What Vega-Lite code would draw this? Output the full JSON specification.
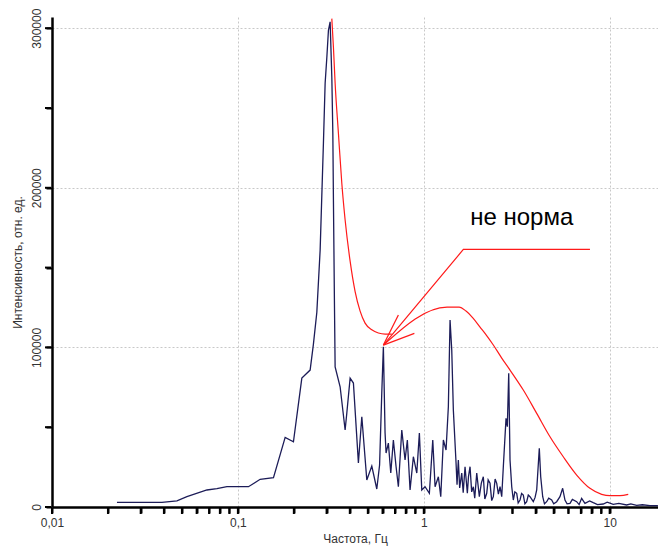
{
  "$schema": "https://vega.github.io/schema/vega-lite/v6.json",
  "width": 606,
  "height": 490,
  "autosize": {"type": "none"},
  "padding": {"left": 52, "top": 17, "right": 0, "bottom": 48},
  "background": "white",
  "config": {
    "view": {"stroke": null},
    "font": "Liberation Sans"
  },
  "datasets": {
    "spec": [
      {"f": 0.02236, "v": 2900}, {"f": 0.03903, "v": 2900}, {"f": 0.04699, "v": 3900}, {"f": 0.05318, "v": 6450},
      {"f": 0.06813, "v": 10650}, {"f": 0.07711, "v": 11460}, {"f": 0.08727, "v": 12710}, {"f": 0.114, "v": 12710},
      {"f": 0.1318, "v": 17350}, {"f": 0.1554, "v": 18350}, {"f": 0.1796, "v": 43650}, {"f": 0.199, "v": 40890},
      {"f": 0.2208, "v": 80780}, {"f": 0.2447, "v": 85790}, {"f": 0.2549, "v": 102000}, {"f": 0.2659, "v": 122000},
      {"f": 0.277, "v": 160900}, {"f": 0.2885, "v": 227900}, {"f": 0.2947, "v": 265500}, {"f": 0.301, "v": 281800},
      {"f": 0.307, "v": 298700}, {"f": 0.3135, "v": 304000}, {"f": 0.3202, "v": 269000}, {"f": 0.3242, "v": 234000},
      {"f": 0.3266, "v": 192000}, {"f": 0.3306, "v": 129600}, {"f": 0.3335, "v": 87700}, {"f": 0.3548, "v": 75330},
      {"f": 0.3775, "v": 48220}, {"f": 0.3855, "v": 58860},
      {"f": 0.4016, "v": 80780}, {"f": 0.4183, "v": 77650}, {"f": 0.445, "v": 27550}, {"f": 0.4642, "v": 56550},
      {"f": 0.4938, "v": 16910}, {"f": 0.5253, "v": 25670}, {"f": 0.5588, "v": 11270}, {"f": 0.5785, "v": 26300},
      {"f": 0.5944, "v": 71390}, {"f": 0.6063, "v": 100380}, {"f": 0.6192, "v": 46340}, {"f": 0.6269, "v": 33820},
      {"f": 0.645, "v": 40080}, {"f": 0.6645, "v": 21290}, {"f": 0.6862, "v": 41960}, {"f": 0.7096, "v": 25240},
      {"f": 0.7301, "v": 12710}, {"f": 0.7615, "v": 48220}, {"f": 0.7931, "v": 29430}, {"f": 0.816, "v": 41960},
      {"f": 0.8438, "v": 10650}, {"f": 0.8791, "v": 31500}, {"f": 0.9171, "v": 21290}, {"f": 0.947, "v": 46340},
      {"f": 0.9756, "v": 10650}, {"f": 1.0162, "v": 12710}, {"f": 1.0718, "v": 8580}, {"f": 1.1179, "v": 41960},
      {"f": 1.1502, "v": 12710}, {"f": 1.1981, "v": 18970}, {"f": 1.2342, "v": 6450}, {"f": 1.2746, "v": 41960},
      {"f": 1.3179, "v": 35690}, {"f": 1.356, "v": 62810}, {"f": 1.3848, "v": 117100}, {"f": 1.4142, "v": 98310},
      {"f": 1.4425, "v": 60740}, {"f": 1.4916, "v": 27550}, {"f": 1.51, "v": 14000}, {"f": 1.5346, "v": 29430},
      {"f": 1.56, "v": 12000}, {"f": 1.6007, "v": 21290}, {"f": 1.63, "v": 9000},
      {"f": 1.6674, "v": 25240}, {"f": 1.7156, "v": 8580}, {"f": 1.74, "v": 19000}, {"f": 1.7739, "v": 25240},
      {"f": 1.81, "v": 9500}, {"f": 1.8478, "v": 12710}, {"f": 1.88, "v": 5500},
      {"f": 1.9273, "v": 21290}, {"f": 1.9903, "v": 6450}, {"f": 2.04, "v": 15000}, {"f": 2.0911, "v": 18970},
      {"f": 2.13, "v": 5000}, {"f": 2.1811, "v": 8580}, {"f": 2.22, "v": 17000},
      {"f": 2.272, "v": 14840}, {"f": 2.32, "v": 4000}, {"f": 2.3668, "v": 6450}, {"f": 2.42, "v": 17500},
      {"f": 2.4688, "v": 14840}, {"f": 2.52, "v": 8000}, {"f": 2.5718, "v": 12710},
      {"f": 2.6264, "v": 6450}, {"f": 2.679, "v": 25240}, {"f": 2.77, "v": 55540}, {"f": 2.815, "v": 50280},
      {"f": 2.8642, "v": 83720}, {"f": 2.9107, "v": 29430}, {"f": 2.9727, "v": 12710}, {"f": 3.0322, "v": 4380},
      {"f": 3.09, "v": 9500}, {"f": 3.1623, "v": 8580}, {"f": 3.22, "v": 2500}, {"f": 3.2941, "v": 4380},
      {"f": 3.36, "v": 8500}, {"f": 3.4313, "v": 7510}, {"f": 3.5, "v": 2000}, {"f": 3.5791, "v": 3320},
      {"f": 3.65, "v": 7500}, {"f": 3.7285, "v": 6450}, {"f": 3.8838, "v": 3320}, {"f": 3.97, "v": 6000}, {"f": 4.051, "v": 10650},
      {"f": 4.1835, "v": 36760}, {"f": 4.2566, "v": 18970}, {"f": 4.3632, "v": 6450}, {"f": 4.46, "v": 2000},
      {"f": 4.5848, "v": 3320}, {"f": 4.7, "v": 5500}, {"f": 4.8768, "v": 4380}, {"f": 5.0, "v": 2000},
      {"f": 5.188, "v": 3320}, {"f": 5.4036, "v": 6450}, {"f": 5.5874, "v": 11710}, {"f": 5.7487, "v": 4380},
      {"f": 5.9, "v": 2000}, {"f": 6.1178, "v": 2320}, {"f": 6.3, "v": 4800}, {"f": 6.646, "v": 3320},
      {"f": 6.85, "v": 1500}, {"f": 7.0696, "v": 5450}, {"f": 7.3643, "v": 2320}, {"f": 7.8, "v": 3800},
      {"f": 8.1617, "v": 2690}, {"f": 8.6, "v": 1500}, {"f": 9.2382, "v": 1880}, {"f": 9.7, "v": 3000},
      {"f": 10.456, "v": 1690}, {"f": 11.2, "v": 2300}, {"f": 12.342, "v": 1250}, {"f": 13.0, "v": 1900},
      {"f": 13.97, "v": 1070}, {"f": 15.0, "v": 1400}, {"f": 16.469, "v": 810}, {"f": 18.18, "v": 810}
    ],
    "redcurve": [
      {"seg": "a", "f": 0.3201, "v": 306000}, {"seg": "a", "f": 0.3266, "v": 288050},
      {"seg": "a", "f": 0.3335, "v": 265510}, {"seg": "a", "f": 0.3474, "v": 234200},
      {"seg": "a", "f": 0.3623, "v": 202890}, {"seg": "a", "f": 0.3774, "v": 180000},
      {"seg": "a", "f": 0.4016, "v": 154000}, {"seg": "a", "f": 0.4272, "v": 135000},
      {"seg": "a", "f": 0.4545, "v": 122740}, {"seg": "a", "f": 0.4834, "v": 115220},
      {"seg": "a", "f": 0.5253, "v": 111000}, {"seg": "a", "f": 0.57, "v": 109000},
      {"seg": "a", "f": 0.6192, "v": 108330}, {"seg": "a", "f": 0.6728, "v": 108330},
      {"seg": "b", "f": 0.6063, "v": 101440}, {"seg": "b", "f": 1.3344, "v": 125240},
      {"seg": "b", "f": 1.548, "v": 125240}, {"seg": "b", "f": 1.6882, "v": 122740},
      {"seg": "b", "f": 1.8409, "v": 118350}, {"seg": "b", "f": 2.0076, "v": 112720},
      {"seg": "b", "f": 2.1892, "v": 107080}, {"seg": "b", "f": 2.3668, "v": 101500},
      {"seg": "b", "f": 2.6264, "v": 93300}, {"seg": "b", "f": 2.9107, "v": 85790},
      {"seg": "b", "f": 3.4313, "v": 73270}, {"seg": "b", "f": 4.051, "v": 58680},
      {"seg": "b", "f": 4.7754, "v": 44020}, {"seg": "b", "f": 5.6291, "v": 31500},
      {"seg": "b", "f": 6.646, "v": 20040}, {"seg": "b", "f": 7.8348, "v": 11710},
      {"seg": "b", "f": 9.0572, "v": 7950}, {"seg": "b", "f": 10.037, "v": 7080},
      {"seg": "b", "f": 11.36, "v": 7080}, {"seg": "b", "f": 12.589, "v": 7950}
    ],
    "redlines": [
      {"seg": "c", "o": 1, "f": 0.6063, "v": 101440}, {"seg": "c", "o": 2, "f": 1.633, "v": 161370},
      {"seg": "c", "o": 3, "f": 7.8348, "v": 161370},
      {"seg": "d", "o": 1, "f": 0.6063, "v": 101440}, {"seg": "d", "o": 2, "f": 0.7301, "v": 120230},
      {"seg": "e", "o": 1, "f": 0.6063, "v": 101440}, {"seg": "e", "o": 2, "f": 0.8901, "v": 108770}
    ],
    "xticks": [
      {"f": 0.01}, {"f": 0.02}, {"f": 0.03}, {"f": 0.04}, {"f": 0.05}, {"f": 0.06}, {"f": 0.07}, {"f": 0.08}, {"f": 0.09},
      {"f": 0.1}, {"f": 0.2}, {"f": 0.3}, {"f": 0.4}, {"f": 0.5}, {"f": 0.6}, {"f": 0.7}, {"f": 0.8}, {"f": 0.9},
      {"f": 1}, {"f": 2}, {"f": 3}, {"f": 4}, {"f": 5}, {"f": 6}, {"f": 7}, {"f": 8}, {"f": 9}, {"f": 10}
    ],
    "yticks": [
      {"v": 0}, {"v": 50000}, {"v": 100000}, {"v": 150000}, {"v": 200000}, {"v": 250000}, {"v": 300000}
    ],
    "note": [{"f": 3.365, "v": 180970, "t": "не норма"}]
  },
  "layer": [
    {
      "data": {"name": "spec"},
      "mark": {"type": "line", "color": "#1c1c58", "strokeWidth": 1.3, "clip": true},
      "encoding": {
        "x": {
          "field": "f", "type": "quantitative",
          "scale": {"type": "log", "domain": [0.01, 18.2], "nice": false},
          "axis": {
            "title": "Частота, Гц",
            "values": [0.01, 0.02, 0.03, 0.04, 0.05, 0.06, 0.07, 0.08, 0.09, 0.1, 0.2, 0.3, 0.4, 0.5, 0.6, 0.7, 0.8, 0.9, 1, 2, 3, 4, 5, 6, 7, 8, 9, 10],
            "labelExpr": "datum.value === 0.01 ? '0,01' : datum.value === 0.1 ? '0,1' : datum.value === 1 ? '1' : datum.value === 10 ? '10' : ''",
            "labelFlush": false,
            "labelOverlap": false,
            "labelFontSize": 12,
            "labelColor": "#333333",
            "labelPadding": 4,
            "domainColor": "#000000",
            "domainWidth": 2.5,
            "ticks": true,
            "tickColor": "#000000",
            "tickWidth": 2,
            "tickSize": 6,
            "grid": true,
            "gridWidth": 1,
            "gridDash": [2, 2],
            "gridColor": {"condition": {"test": "datum.value === 0.1 || datum.value === 1 || datum.value === 10", "value": "#c8c8c8"}, "value": "transparent"},
            "titleFontSize": 12,
            "titleFontWeight": "normal",
            "titleColor": "#333333",
            "titlePadding": 5
          }
        },
        "y": {
          "field": "v", "type": "quantitative",
          "scale": {"domain": [0, 307000], "nice": false},
          "axis": {
            "title": "Интенсивность, отн. ед.",
            "values": [0, 50000, 100000, 150000, 200000, 250000, 300000],
            "labelExpr": "datum.value % 100000 === 0 ? '' + datum.value : ''",
            "labelAngle": -90,
            "labelAlign": "center",
            "labelBaseline": "bottom",
            "labelFontSize": 12,
            "labelColor": "#333333",
            "labelPadding": 3,
            "labelOverlap": false,
            "labelFlush": false,
            "domainColor": "#000000",
            "domainWidth": 2.5,
            "ticks": true,
            "tickColor": "#000000",
            "tickWidth": 2,
            "tickSize": 6,
            "grid": true,
            "gridDash": [2, 2],
            "gridColor": {"condition": {"test": "datum.value === 100000 || datum.value === 200000 || datum.value === 300000", "value": "#c8c8c8"}, "value": "transparent"},
            "titleFontSize": 12,
            "titleFontWeight": "normal",
            "titleColor": "#333333",
            "titlePadding": 6
          }
        }
      }
    },
    {
      "data": {"name": "redcurve"},
      "mark": {"type": "line", "color": "#ff1a1a", "strokeWidth": 1.2, "clip": true, "interpolate": "monotone"},
      "encoding": {
        "x": {"field": "f", "type": "quantitative"},
        "y": {"field": "v", "type": "quantitative"},
        "detail": {"field": "seg"}
      }
    },
    {
      "data": {"name": "redlines"},
      "mark": {"type": "line", "color": "#ff1a1a", "strokeWidth": 1.2, "clip": true},
      "encoding": {
        "x": {"field": "f", "type": "quantitative"},
        "y": {"field": "v", "type": "quantitative"},
        "detail": {"field": "seg"},
        "order": {"field": "o", "type": "quantitative"}
      }
    },
    {
      "data": {"name": "xticks"},
      "mark": {"type": "tick", "orient": "vertical", "color": "#000000", "thickness": 2, "size": 6, "yOffset": 4, "opacity": 1},
      "encoding": {
        "x": {"field": "f", "type": "quantitative"},
        "y": {"datum": 0, "type": "quantitative"}
      }
    },
    {
      "data": {"name": "yticks"},
      "mark": {"type": "tick", "orient": "horizontal", "color": "#000000", "thickness": 2, "size": 6, "xOffset": -4, "opacity": 1},
      "encoding": {
        "x": {"datum": 0.01, "type": "quantitative"},
        "y": {"field": "v", "type": "quantitative"}
      }
    },
    {
      "data": {"name": "note"},
      "mark": {"type": "text", "fontSize": 24, "color": "#000000", "align": "center", "baseline": "middle", "font": "Liberation Sans"},
      "encoding": {
        "x": {"field": "f", "type": "quantitative"},
        "y": {"field": "v", "type": "quantitative"},
        "text": {"field": "t"}
      }
    }
  ]
}
